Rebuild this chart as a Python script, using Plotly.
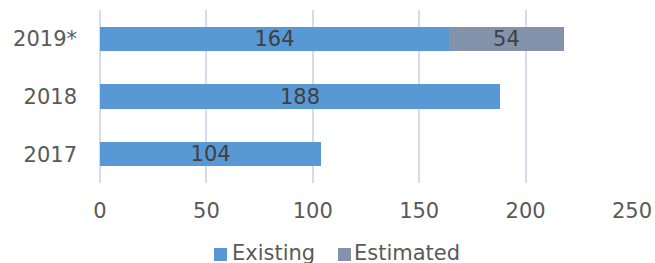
import plotly.graph_objects as go

years = ["2017", "2018", "2019*"]
existing = [104, 188, 164]
estimated = [None, None, 54]
x_ticks = [0, 50, 100, 150, 200, 250]
series_names = ["Existing", "Estimated"]
series_colors = ["#5898d4", "#8493ac"]

font_family = "DejaVu Sans, Verdana, sans-serif"
W, H = 655, 263
ML, MR, MT, MB = 100, 23, 10, 80
PW, PH = W - ML - MR, H - MT - MB

def px_x(p):
    return (p - ML) / PW

def px_y(p):
    return (H - MB - p) / PH

fig = go.Figure()
fig.add_trace(go.Bar(
    y=years, x=existing, orientation="h", name=series_names[0],
    marker=dict(color=series_colors[0], line=dict(width=0)),
    text=existing, textposition="inside", insidetextanchor="middle",
    constraintext="none",
    textfont=dict(color="#404040", size=21, family=font_family),
))
fig.add_trace(go.Bar(
    y=years, x=estimated, orientation="h", name=series_names[1],
    marker=dict(color=series_colors[1], line=dict(width=0)),
    text=[("" if v is None else v) for v in estimated],
    textposition="inside", insidetextanchor="middle",
    constraintext="none",
    textfont=dict(color="#404040", size=21, family=font_family),
))

# custom legend (square swatch + text), positioned in pixels
legend_items = [(214, 232), (338, 354)]
shapes = []
annotations = []
for (sx, tx), name, col in zip(legend_items, series_names, series_colors):
    shapes.append(dict(type="rect", xref="paper", yref="paper",
                       x0=px_x(sx), x1=px_x(sx + 13), y0=px_y(261), y1=px_y(248),
                       fillcolor=col, line=dict(width=0), layer="above"))
    annotations.append(dict(text=name, xref="paper", yref="paper", x=px_x(tx - 2),
                            y=px_y(253), xanchor="left", yanchor="middle",
                            showarrow=False,
                            font=dict(size=21, color="#595959", family=font_family)))

fig.update_layout(
    width=W, height=H,
    barmode="stack", bargap=0.58,
    margin=dict(l=ML, r=MR, t=MT, b=MB, autoexpand=False),
    paper_bgcolor="white", plot_bgcolor="white",
    font=dict(family=font_family, size=21, color="#595959"),
    showlegend=False,
    shapes=shapes, annotations=annotations,
    xaxis=dict(range=[0, 250], tickvals=x_ticks, showgrid=True, gridcolor="#d9d9ef",
               gridwidth=2, zeroline=True, zerolinecolor="#d9d9ef", zerolinewidth=2,
               showline=False, ticks="", ticklabelstandoff=13, fixedrange=True,
               automargin=False),
    yaxis=dict(showgrid=False, showline=False, ticks="", ticklabelstandoff=22,
               range=[-0.5, 2.5], fixedrange=True, automargin=False),
)

fig.write_html("out.html", config={"displayModeBar": False},
               post_script="document.body.style.margin='0';document.body.style.overflow='hidden';")
